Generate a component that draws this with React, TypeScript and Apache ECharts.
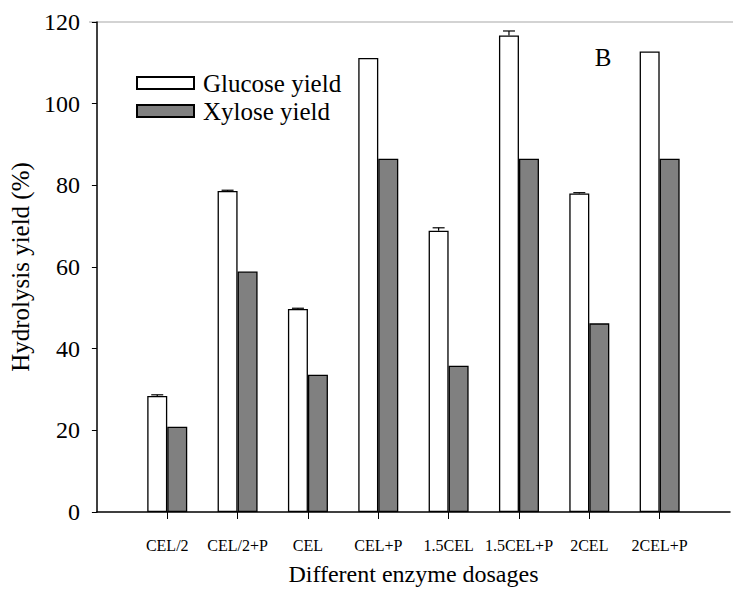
import React, { useEffect, useRef } from "react";
import * as echarts from "echarts";

// Enzyme dosage groups and hydrolysis yields (%)
const categories = ["CEL/2", "CEL/2+P", "CEL", "CEL+P", "1.5CEL", "1.5CEL+P", "2CEL", "2CEL+P"];
const glucoseYield = [28.4, 78.6, 49.7, 111.2, 68.9, 116.7, 78.0, 112.8];
const glucoseErr = [0.3, 0.2, 0.2, 0, 0.7, 1.1, 0.2, 0];
const xyloseYield = [20.9, 58.9, 33.6, 86.5, 35.8, 86.5, 46.2, 86.5];
const yTicks = { min: 0, max: 120, interval: 20 };

const FONT = "Liberation Serif";

export default function App() {
  const ref = useRef<HTMLDivElement>(null);

  useEffect(() => {
    if (!ref.current) return;
    const chart = echarts.init(ref.current, undefined, { renderer: "svg" });

    // pad the category axis with an empty slot on each side
    const axisData = ["", ...categories, ""];
    const pad = (arr: number[]) => ["-", ...arr, "-"];

    const errData = glucoseYield.map((v, i) => [i + 1, v, glucoseErr[i]]);

    chart.setOption({
      animation: false,
      backgroundColor: "#ffffff",
      textStyle: { fontFamily: FONT, color: "#000" },
      grid: { left: 93, top: 22, right: 0, bottom: 74, containLabel: false },
      legend: {
        orient: "vertical",
        left: 131,
        top: 64,
        itemWidth: 57,
        itemHeight: 12,
        itemGap: 0,
        icon: "rect",
        data: ["Glucose yield", "Xylose yield"],
        textStyle: {
          fontFamily: FONT,
          fontSize: 25,
          color: "#000",
          lineHeight: 28,
          padding: [0, 0, 0, 4],
        },
      },
      xAxis: {
        type: "category",
        data: axisData,
        boundaryGap: false,
        name: "Different enzyme dosages",
        nameLocation: "middle",
        nameGap: 50,
        nameTextStyle: { fontFamily: FONT, fontSize: 24, color: "#000" },
        axisLine: { show: true, lineStyle: { color: "#000", width: 1.5 } },
        axisTick: {
          show: true,
          inside: false,
          length: 7,
          interval: (index: number) => index > 0 && index < axisData.length - 1,
          lineStyle: { color: "#000", width: 1 },
        },
        axisLabel: {
          interval: 0,
          margin: 25,
          fontFamily: FONT,
          fontSize: 16,
          color: "#000",
        },
        splitLine: { show: false },
      },
      yAxis: {
        type: "value",
        min: yTicks.min,
        max: yTicks.max,
        interval: yTicks.interval,
        name: "Hydrolysis yield (%)",
        nameLocation: "middle",
        nameGap: 59,
        nameTextStyle: { fontFamily: FONT, fontSize: 25, color: "#000" },
        axisLine: { show: true, lineStyle: { color: "#000", width: 1.5 } },
        axisTick: { show: true, inside: false, length: 5, lineStyle: { color: "#000", width: 1 } },
        axisLabel: { margin: 17, fontFamily: FONT, fontSize: 24, color: "#000" },
        splitLine: { show: false },
      },
      graphic: [
        {
          type: "line",
          shape: { x1: 89, y1: 22, x2: 733, y2: 22 },
          style: { stroke: "#c4c4c4", lineWidth: 1.5 },
          silent: true,
        },
        {
          type: "text",
          x: 603,
          y: 57,
          style: {
            text: "B",
            fontFamily: FONT,
            fontSize: 25,
            fill: "#000",
            align: "center",
            verticalAlign: "middle",
          },
        },
      ],
      series: [
        {
          name: "Glucose yield",
          type: "bar",
          data: pad(glucoseYield),
          barWidth: 20,
          barGap: "0%",
          itemStyle: { color: "#ffffff", borderColor: "#000", borderWidth: 1.3 },
          z: 2,
        },
        {
          name: "Xylose yield",
          type: "bar",
          data: pad(xyloseYield),
          barWidth: 20,
          barGap: "0%",
          itemStyle: { color: "#808080", borderColor: "#000", borderWidth: 1.3 },
          z: 2,
        },
        {
          name: "Glucose error",
          type: "custom",
          data: errData,
          z: 3,
          silent: true,
          renderItem: (_params: any, api: any) => {
            const idx = api.value(0);
            const val = api.value(1);
            const err = api.value(2);
            if (!err) return null;
            const base = api.coord([idx, val]);
            const top = api.coord([idx, val + err]);
            const x = base[0] - 10;
            const cap = 6;
            return {
              type: "group",
              children: [
                {
                  type: "line",
                  shape: { x1: x, y1: base[1], x2: x, y2: top[1] },
                  style: { stroke: "#000", lineWidth: 1.2 },
                },
                {
                  type: "line",
                  shape: { x1: x - cap, y1: top[1], x2: x + cap, y2: top[1] },
                  style: { stroke: "#000", lineWidth: 1.2 },
                },
              ],
            };
          },
        },
      ],
    });

    return () => chart.dispose();
  }, []);

  return (
    <div
      ref={ref}
      style={{ position: "absolute", left: 0, top: 0, width: 733, height: 591 }}
    />
  );
}
